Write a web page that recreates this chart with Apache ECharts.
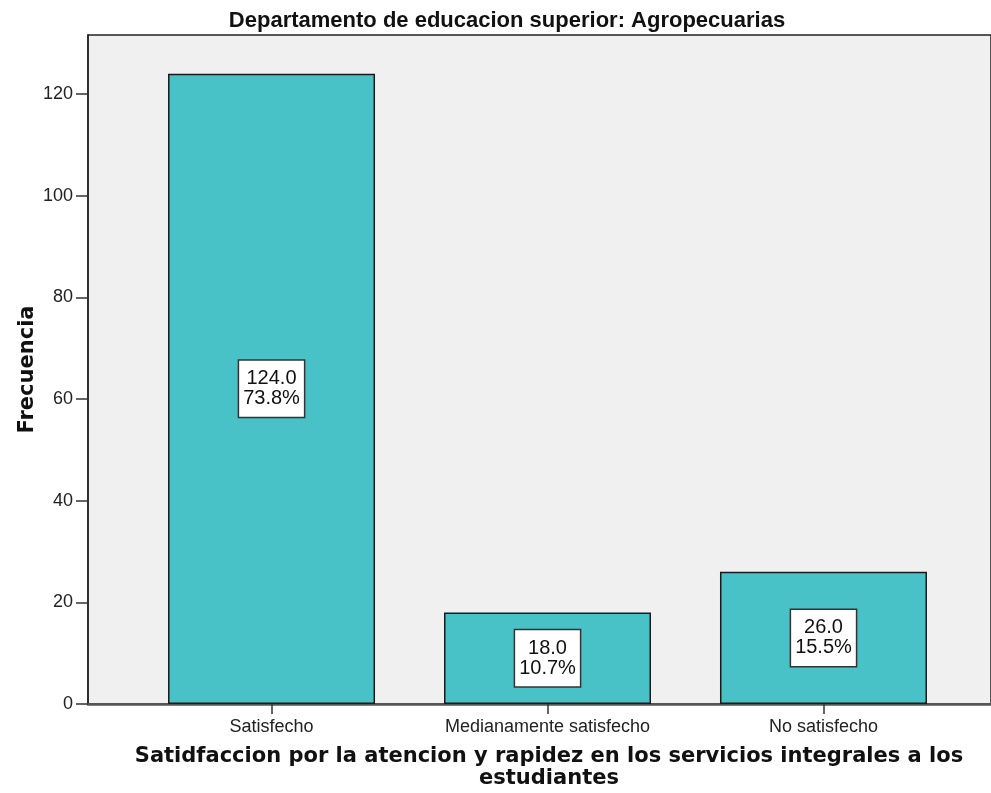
<!DOCTYPE html>
<html>
<head>
<meta charset="utf-8">
<script src="https://cdn.jsdelivr.net/npm/echarts@6/dist/echarts.min.js"></script>
<style>
  html, body { margin: 0; padding: 0; background: #fff; }
  #chart { width: 991px; height: 793px; }
</style>
</head>
<body>
<div id="chart"></div>
<script>
// data
const categories = ['Satisfecho', 'Medianamente satisfecho', 'No satisfecho']
const counts = [124, 18, 26]
const percents = [73.8, 10.7, 15.5]
const yTicks = [0, 20, 40, 60, 80, 100, 120]

const chart = echarts.init(document.getElementById('chart'))

chart.setOption({
  animation: false,
  title: [{
    text: 'Departamento de educacion superior: Agropecuarias',
    left: 507,
    top: 10,
    padding: 0,
    textAlign: 'center',
    textStyle: { fontFamily: 'Liberation Sans', fontWeight: 'bold', fontSize: 22, color: '#111' }
  }, {
    text: 'Satidfaccion por la atencion y rapidez en los servicios integrales a los\nestudiantes',
    left: 549,
    top: 746,
    padding: 0,
    textAlign: 'center',
    textStyle: { fontFamily: 'DejaVu Sans', fontWeight: 'bold', fontSize: 21, lineHeight: 22, color: '#111' }
  }],
  grid: {
    left: 88,
    right: 0,
    top: 35,
    bottom: 89,
    show: true,
    backgroundColor: '#f0f0f0',
    borderColor: '#222',
    borderWidth: 1.5
  },
  xAxis: {
    type: 'value',
    min: -0.665,
    max: 2.607,
    splitLine: { show: false },
    axisLine: { lineStyle: { color: '#555', width: 2.5 } },
    axisTick: { customValues: [0, 1, 2], length: 10, lineStyle: { color: '#333', width: 1.5 } },
    axisLabel: {
      customValues: [0, 1, 2],
      formatter: v => categories[v],
      margin: 14,
      fontFamily: 'Liberation Sans',
      fontSize: 18,
      color: '#222'
    }
  },
  yAxis: {
    type: 'value',
    min: 0,
    max: 131.6,
    name: 'Frecuencia',
    nameLocation: 'middle',
    nameRotate: 90,
    nameGap: 50,
    nameMoveOverlap: false,
    nameTextStyle: { fontFamily: 'DejaVu Sans', fontWeight: 'bold', fontSize: 21, color: '#111' },
    splitLine: { show: false },
    axisLine: { show: true, onZero: false, lineStyle: { color: '#222', width: 1.5 } },
    axisTick: { customValues: yTicks, length: 12, lineStyle: { color: '#333', width: 1.5 } },
    axisLabel: {
      customValues: yTicks,
      margin: 15,
      fontFamily: 'Liberation Sans',
      fontSize: 18,
      color: '#222'
    }
  },
  series: [{
    type: 'bar',
    barWidth: 207,
    data: counts.map((c, i) => [i, c]),
    itemStyle: { color: '#48c2c6', borderColor: '#1a1a1a', borderWidth: 1.5 },
    label: {
      show: true,
      position: 'inside',
      formatter: p => counts[p.dataIndex].toFixed(1) + '\n' + percents[p.dataIndex].toFixed(1) + '%',
      fontFamily: 'Liberation Sans',
      fontSize: 20,
      lineHeight: 20,
      color: '#111',
      backgroundColor: '#fff',
      borderColor: '#333',
      borderWidth: 1.5,
      padding: [8, 4, 8, 4]
    }
  }]
})
</script>
</body>
</html>
